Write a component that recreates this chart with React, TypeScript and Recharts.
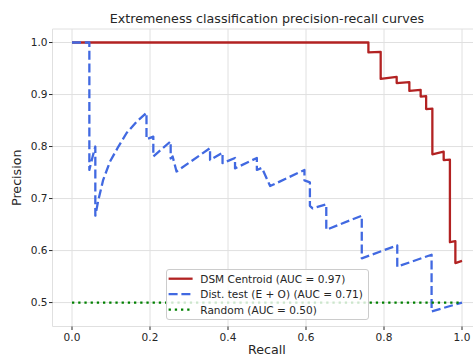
import React from 'react';
import { LineChart, Line, XAxis, YAxis, CartesianGrid, Legend } from 'recharts';

// DSM Centroid curve (recall, precision)
const dsmRecall = [0, 0.76, 0.76, 0.7915, 0.7915, 0.8325, 0.8325, 0.865, 0.865, 0.894, 0.894, 0.908, 0.908, 0.924, 0.924, 0.953, 0.953, 0.969, 0.969, 0.983, 0.983, 1.0];
const dsmPrecision = [1.0, 1.0, 0.981, 0.982, 0.93, 0.934, 0.922, 0.924, 0.907, 0.909, 0.896, 0.897, 0.872, 0.873, 0.785, 0.79, 0.774, 0.775, 0.616, 0.618, 0.576, 0.58];

// Dist. test (E + O) curve
const distRecall = [0, 0.0445, 0.0445, 0.052, 0.0598, 0.0598, 0.0675, 0.08, 0.0974, 0.119, 0.14, 0.166, 0.191, 0.191, 0.2085, 0.2085, 0.253, 0.253, 0.258, 0.268, 0.354, 0.354, 0.386, 0.386, 0.418, 0.418, 0.474, 0.474, 0.487, 0.508, 0.596, 0.596, 0.61, 0.61, 0.617, 0.652, 0.652, 0.743, 0.743, 0.834, 0.834, 0.922, 0.922, 1.0];
const distPrecision = [1.0, 1.0, 0.755, 0.778, 0.8, 0.667, 0.697, 0.736, 0.771, 0.8, 0.826, 0.848, 0.865, 0.814, 0.819, 0.781, 0.81, 0.777, 0.781, 0.752, 0.797, 0.774, 0.788, 0.768, 0.778, 0.758, 0.778, 0.755, 0.759, 0.724, 0.755, 0.735, 0.731, 0.686, 0.681, 0.689, 0.64, 0.667, 0.585, 0.61, 0.569, 0.592, 0.483, 0.5];

// Random baseline
const randomRecall = [0, 1];
const randomPrecision = [0.5, 0.5];

const seriesNames = ['DSM Centroid (AUC = 0.97)', 'Dist. test (E + O) (AUC = 0.71)', 'Random (AUC = 0.50)'];
const xTicks = [0, 0.2, 0.4, 0.6, 0.8, 1.0];
const yTicks = [0.5, 0.6, 0.7, 0.8, 0.9, 1.0];

const toPoints = (rs: number[], ps: number[]) => rs.map((r, i) => ({ r, p: ps[i] }));

const font = '"DejaVu Sans", sans-serif';
const textColor = '#262626';

const styles = [
  { color: '#b22222', dash: undefined as string | undefined, width: 2.3 },
  { color: '#4169e1', dash: '9 3.8', width: 2.3 },
  { color: '#008000', dash: '2.3 3.9', width: 2.3 },
];

const LegendBox = () => (
  <div
    style={{
      width: 203,
      height: 51,
      boxSizing: 'border-box',
      background: 'rgba(255,255,255,0.8)',
      border: '1px solid #cccccc',
      borderRadius: 3,
    }}
  >
    <svg width={201} height={49} style={{ display: 'block' }}>
      {seriesNames.map((name, i) => {
        const y = 8.7 + i * 15.5;
        return (
          <g key={name}>
            <line
              x1={1.6}
              x2={25.6}
              y1={y}
              y2={y}
              stroke={styles[i].color}
              strokeWidth={styles[i].width}
              strokeDasharray={styles[i].dash}
            />
            <text x={33.3} y={y} dy="0.36em" fontSize={10.56} fill={textColor} fontFamily={font}>
              {name}
            </text>
          </g>
        );
      })}
    </svg>
  </div>
);

const App: React.FC = () => {
  const lines = [
    toPoints(dsmRecall, dsmPrecision),
    toPoints(distRecall, distPrecision),
    toPoints(randomRecall, randomPrecision),
  ];

  return (
    <div
      style={{
        position: 'absolute',
        left: 0,
        top: 0,
        width: 473,
        height: 356,
        overflow: 'hidden',
        background: '#fff',
        fontFamily: font,
      }}
    >
      <div
        style={{
          position: 'absolute',
          left: 52.5,
          width: 429,
          top: 12.5,
          textAlign: 'center',
          fontSize: 12.67,
          lineHeight: '12.67px',
          color: textColor,
          zIndex: 1,
        }}
      >
        Extremeness classification precision-recall curves
      </div>
      <LineChart width={482} height={356} margin={{ top: 29, right: 0.5, bottom: 0, left: 0 }}>
        <CartesianGrid stroke="#e0e0e0" strokeWidth={1} />
        <XAxis
          type="number"
          dataKey="r"
          domain={[-0.05, 1.05]}
          ticks={xTicks}
          allowDataOverflow
          height={29.5}
          axisLine={false}
          tickSize={3.5}
          tickMargin={3.5}
          tickLine={{ stroke: textColor }}
          tick={{ fill: textColor, fontSize: 10.56 }}
          tickFormatter={(v: number) => v.toFixed(1)}
          label={{ value: 'Recall', position: 'insideBottom', offset: 2, fill: textColor, fontSize: 12.67 }}
        />
        <YAxis
          type="number"
          dataKey="p"
          domain={[0.454, 1.026]}
          ticks={yTicks}
          allowDataOverflow
          width={52.5}
          axisLine={false}
          tickSize={3.5}
          tickMargin={1.5}
          tickLine={{ stroke: textColor }}
          tick={{ fill: textColor, fontSize: 10.56 }}
          tickFormatter={(v: number) => v.toFixed(1)}
          label={{
            value: 'Precision',
            angle: -90,
            position: 'insideLeft',
            offset: 16.9,
            fill: textColor,
            fontSize: 12.67,
            style: { textAnchor: 'middle' },
          }}
        />
        {lines.map((data, i) => (
          <Line
            key={seriesNames[i]}
            data={data}
            dataKey="p"
            name={seriesNames[i]}
            type="linear"
            stroke={styles[i].color}
            strokeWidth={styles[i].width}
            strokeDasharray={styles[i].dash}
            strokeLinejoin="round"
            dot={false}
            activeDot={false}
            isAnimationActive={false}
          />
        ))}
        <Legend
          layout="vertical"
          align="center"
          verticalAlign="middle"
          wrapperStyle={{ left: 165.7, top: 269.3, width: 203, height: 51 }}
          content={() => <LegendBox />}
        />
      </LineChart>
    </div>
  );
};

export default App;
